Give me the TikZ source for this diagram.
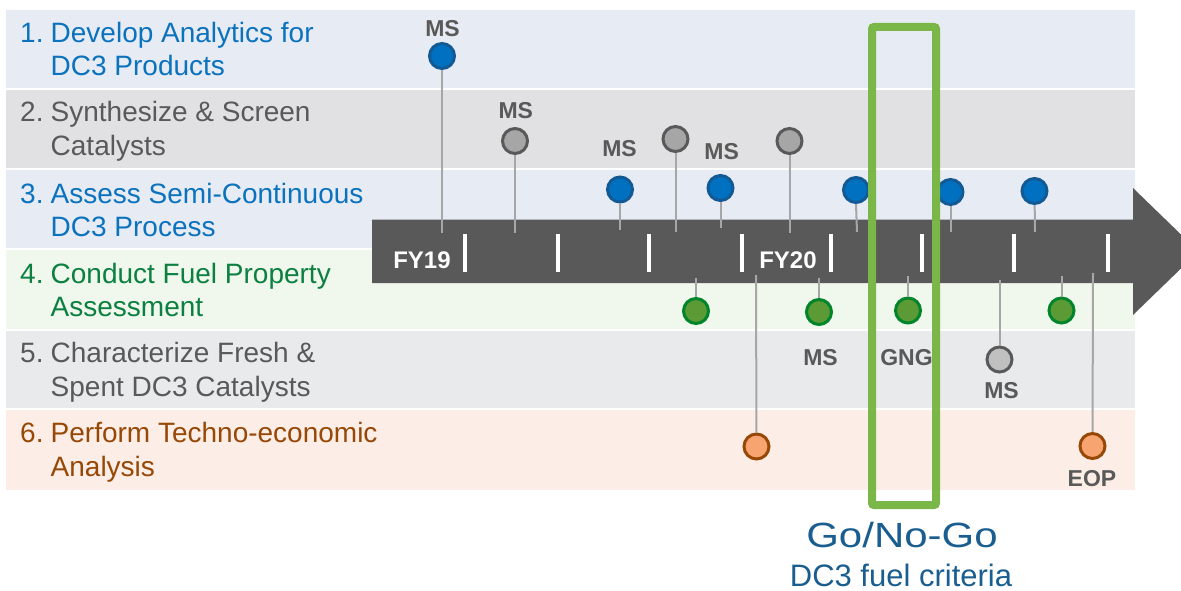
\documentclass[tikz,border=0pt]{standalone}
\usepackage{fontspec}
\setmainfont{Liberation Sans}
\definecolor{bandA}{HTML}{E7EBF4}
\definecolor{bandB}{HTML}{E1E1E3}
\definecolor{bandD}{HTML}{F0F7EC}
\definecolor{bandE}{HTML}{E9EAEC}
\definecolor{bandF}{HTML}{FCEEE6}
\definecolor{txtblue}{HTML}{0B72BD}
\definecolor{txtgray}{HTML}{595959}
\definecolor{txtgreen}{HTML}{0B8040}
\definecolor{txtbrown}{HTML}{974706}
\definecolor{arrowc}{HTML}{595959}
\definecolor{pinc}{HTML}{A6A6A6}
\definecolor{dotblue}{HTML}{0070C0}
\definecolor{dotblueb}{HTML}{135A94}
\definecolor{dotgray}{HTML}{A6A6A6}
\definecolor{dotlgray}{HTML}{C0C0C0}
\definecolor{dotgrayb}{HTML}{595959}
\definecolor{dotgreen}{HTML}{5C9A35}
\definecolor{dotgreenb}{HTML}{00852A}
\definecolor{dotorange}{HTML}{F8A470}
\definecolor{dotorangeb}{HTML}{974706}
\definecolor{gngc}{HTML}{7AB648}
\definecolor{gotxt}{HTML}{1A5E8F}
\begin{document}
\begin{tikzpicture}[x=1pt,y=-1pt,
  pin/.style={draw=pinc, line width=2pt},
  dot/.style={circle, minimum size=25pt, inner sep=0pt, line width=3pt},
  bluedot/.style={dot, fill=dotblue, draw=dotblueb},
  graydot/.style={dot, fill=dotgray, draw=dotgrayb},
  lgraydot/.style={dot, fill=dotlgray, draw=dotgrayb},
  greendot/.style={dot, fill=dotgreen, draw=dotgreenb},
  orangedot/.style={dot, fill=dotorange, draw=dotorangeb},
  tag/.style={font=\fontsize{23}{23}\selectfont\bfseries, text=txtgray, inner sep=0pt, anchor=base},
  fy/.style={font=\fontsize{24}{24}\selectfont\bfseries, text=white, inner sep=0pt, anchor=base},
  rowlabel/.style={font=\fontsize{28}{33.5}\selectfont, align=left, inner sep=0pt, anchor=base west},
  tickmark/.style={draw=white, line width=3.5pt},
  gngbox/.style={draw=gngc, line width=8pt, rounded corners=2pt, minimum width=64pt, minimum height=478pt, inner sep=0pt},
]
\useasboundingbox (0,0) rectangle (1181,591);
% bands
\fill[bandA] (6,10) rectangle (1135,88);
\fill[bandB] (6,90) rectangle (1135,168);
\fill[bandA] (6,170) rectangle (1135,248);
\fill[bandD] (6,250) rectangle (1135,329);
\fill[bandE] (6,331) rectangle (1135,408);
\fill[bandF] (6,410) rectangle (1135,490);
% row labels (anchored at the baseline of the second line)
\node[rowlabel, text=txtblue] (row1) at (20,76) {\makebox[30.5pt][l]{1.}Develop Analytics for\\\hspace*{30.5pt}DC3 Products};
\node[rowlabel, text=txtgray] (row2) at (20,155.5) {\makebox[30.5pt][l]{2.}Synthesize \& Screen\\\hspace*{30.5pt}Catalysts};
\node[rowlabel, text=txtblue] (row3) at (20,236.5) {\makebox[30.5pt][l]{3.}Assess Semi-Continuous\\\hspace*{30.5pt}DC3 Process};
\node[rowlabel, text=txtgreen] (row4) at (20,316.5) {\makebox[30.5pt][l]{4.}Conduct Fuel Property\\\hspace*{30.5pt}Assessment};
\node[rowlabel, text=txtgray] (row5) at (20,396) {\makebox[30.5pt][l]{5.}Characterize Fresh \&\\\hspace*{30.5pt}Spent DC3 Catalysts};
\node[rowlabel, text=txtbrown] (row6) at (20,476) {\makebox[30.5pt][l]{6.}Perform Techno-economic\\\hspace*{30.5pt}Analysis};
% timeline arrow
\fill[arrowc] (372,219.5) -- (1133,219.5) -- (1133,188) -- (1181,234.5) -- (1181,268.5) -- (1133,315) -- (1133,283) -- (372,283) -- cycle;
\foreach \tx in {465,558,649,742,831,922,1014,1108}
  \draw[tickmark] (\tx,234) -- (\tx,272);
\node[fy] (fy19) at (422,268) {FY19};
\node[fy] (fy20) at (788,268) {FY20};
% milestones above
\node[bluedot] (b1) at (442,56) {};
\node[graydot] (g1) at (515,141) {};
\node[bluedot] (b2) at (620,189.5) {};
\node[graydot] (g2) at (675.5,139) {};
\node[bluedot] (b3) at (720.5,188) {};
\node[graydot] (g3) at (789.5,141) {};
\node[bluedot] (b4) at (856,190) {};
\node[bluedot] (b5) at (950.5,192) {};
\node[bluedot] (b6) at (1034.5,191) {};
\coordinate (b1e) at (442,233);
\coordinate (g1e) at (515,233);
\coordinate (b2e) at (620,230);
\coordinate (g2e) at (675.5,232);
\coordinate (b3e) at (720.5,228);
\coordinate (g3e) at (789.5,233);
\coordinate (b4e) at (857,232);
\coordinate (b5e) at (950.5,232);
\coordinate (b6e) at (1035,232);
\draw[pin] (b1) -- (b1e);
\draw[pin] (g1) -- (g1e);
\draw[pin] (b2) -- (b2e);
\draw[pin] (g2) -- (g2e);
\draw[pin] (b3) -- (b3e);
\draw[pin] (g3) -- (g3e);
\draw[pin] (b4.south) -- (b4e);
\draw[pin] (b5) -- (b5e);
\draw[pin] (b6) -- (b6e);
% milestones below
\node[greendot] (e1) at (696,311) {};
\node[greendot] (e2) at (819,312) {};
\node[greendot] (e3) at (908,310.5) {};
\node[greendot] (e4) at (1061.5,310.5) {};
\node[lgraydot] (c1) at (999.5,359.5) {};
\node[orangedot] (o1) at (756.5,446.5) {};
\node[orangedot] (o2) at (1092.5,446) {};
\coordinate (e1s) at (696,278);
\coordinate (e2s) at (819,278);
\coordinate (e3s) at (908,276);
\coordinate (e4s) at (1061.5,276);
\coordinate (c1s) at (999.5,280);
\coordinate (o1s) at (756,275);
\coordinate (o2s) at (1093,273);
\draw[pin] (e1s) -- (e1);
\draw[pin] (e2s) -- (e2);
\draw[pin] (e3s) -- (e3);
\draw[pin] (e4s) -- (e4);
\draw[pin] (c1s) -- (c1);
\draw[pin] (o1s) -- (o1);
\draw[pin] (o2s) -- (o2);
% tags
\node[tag] (ms1) at (442.5,37) {MS};
\node[tag] (ms2) at (515.8,119) {MS};
\node[tag] (ms3) at (619.5,157) {MS};
\node[tag] (ms4) at (721.7,160) {MS};
\node[tag] (ms5) at (820.5,365) {MS};
\node[tag] (gng) at (906.5,365) {GNG};
\node[tag] (ms6) at (1001.5,398) {MS};
\node[tag] (eop) at (1092,486) {EOP};
% go/no-go box
\node[gngbox] (gobox) at (904,266) {};
\node[font=\fontsize{35}{35}\selectfont, text=gotxt, inner sep=0pt, anchor=base, xscale=1.2] (gotitle) at (902,547.5) {Go/No-Go};
\node[font=\fontsize{31}{31}\selectfont, text=gotxt, inner sep=0pt, text depth=0pt, anchor=base] (gosub) at (901,586.5) {DC3 fuel criteria};
\end{tikzpicture}
\end{document}
